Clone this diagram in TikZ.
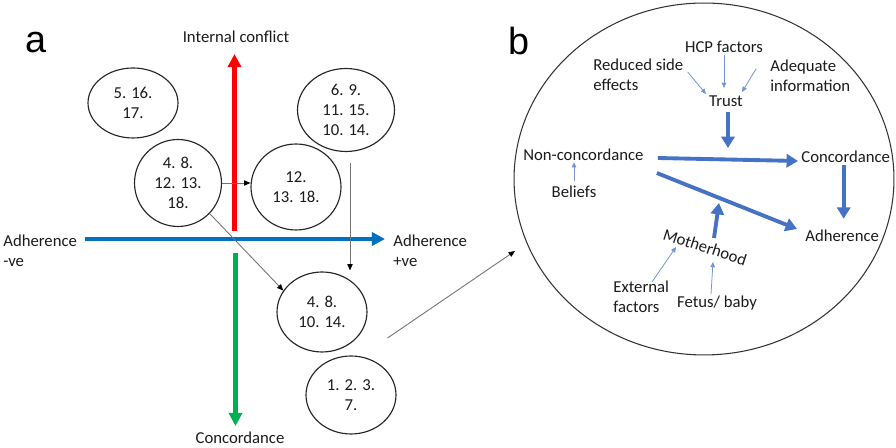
\documentclass[tikz,border=0pt]{standalone}
\usepackage{fontspec}
\setmainfont{Carlito}
\newfontfamily\panelfont{Liberation Sans}
\usetikzlibrary{arrows.meta,positioning,calc,shapes.geometric}
\definecolor{axisred}{HTML}{FF0000}
\definecolor{axisblue}{HTML}{0070C0}
\definecolor{axisgreen}{HTML}{00B050}
\definecolor{flowblue}{HTML}{4472C4}
\definecolor{textgray}{HTML}{1A1A1A}
\tikzset{
  group/.style={ellipse,draw=black!85,line width=0.65pt,inner sep=0pt,align=center,
    text=textgray,font=\fontsize{9.5}{11.4}\selectfont},
  lbl/.style={inner sep=0pt,text=textgray,font=\fontsize{9.5}{11.2}\selectfont},
  panel/.style={inner sep=0pt,anchor=base west,font=\panelfont\fontsize{21.5}{24}\selectfont},
  axis/.style={line width=2.8pt,-{Triangle[length=7.5pt,width=7.5pt]}},
  link/.style={draw=black!55,line width=0.5pt,-{Triangle[length=3.6pt,width=3pt,color=black]}},
  flow/.style={draw=flowblue,line width=2.2pt,-{Triangle[length=6.5pt,width=7.5pt]}},
  feed/.style={draw=flowblue!75,line width=0.45pt,-{Triangle[length=3pt,width=2.6pt]}}
}

\begin{document}
\begin{tikzpicture}[x=0.02cm,y=-0.02cm]
\useasboundingbox (0,0) rectangle (896,448);
\node[panel] (pa) at (25,53) {a};
\node[panel] (pb) at (508,55) {b};

\foreach \nm/\cx/\cy/\gw/\gh/\txt in {
  g1/133/103/1.80/1.40/{5. 16.\\17.},
  g2/178/183/1.74/1.74/{4. 8.\\12. 13.\\18.},
  g3/296/187/1.80/1.72/{12.\\13. 18.},
  g4/346/110/1.94/1.66/{6. 9.\\11. 15.\\10. 14.},
  g5/322/312/1.80/1.60/{4. 8.\\10. 14.},
  g6/351/395/1.80/1.56/{1. 2. 3.\\7.}}
  \node[group,minimum width=\gw cm,minimum height=\gh cm] (\nm) at (\cx,\cy) {\txt};

\node[lbl] (conflict) at (236,37) {Internal conflict};
\node[lbl] (concaxis) at (240,438) {Concordance};
\node[lbl,anchor=west,align=left] (adneg) at (3,251) {Adherence\\-ve};
\node[lbl,anchor=west,align=left] (adpos) at (393,251) {Adherence\\+ve};
\coordinate (cross) at (235,239);
\draw[axis,axisblue] ($(cross)+(-150,0)$) -- ($(cross)+(150,0)$);
\draw[axis,axisred] ($(cross)+(-0.5,-8)$) -- ($(cross)+(-0.5,-185)$);
\draw[axis,axisgreen] ($(cross)+(0.5,14)$) -- ($(cross)+(0.5,187)$);

\draw[link] (g2.east) -- (g2.east -| g3.west);
\draw[link] (g2.-44) -- (g5.151);
\draw[link] ($(g4.south)+(4,11)$) -- ($(g5.north)+(28,-1)$);
\coordinate (zoomtip) at (515,251);
\draw[link] ($(g5.east)+(20,26)$) -- (zoomtip);

\node[ellipse,draw=black!80,line width=0.6pt,minimum width=7.6cm,minimum height=7.04cm] (zoomcircle) at (704,179) {};
\node[lbl] (hcp) at (724,47) {HCP factors};
\node[lbl,anchor=west,align=left] (sidefx) at (593,75) {Reduced side\\effects};
\node[lbl,anchor=west,align=left] (info) at (770,76) {Adequate\\information};
\node[lbl] (trust) at (726,101) {Trust};
\node[lbl,anchor=west] (noncon) at (523,155) {Non-concordance};
\node[lbl] (beliefs) at (574,192) {Beliefs};
\node[lbl,anchor=west] (concord) at (801,157) {Concordance};
\node[lbl,anchor=west] (adhere) at (805,236) {Adherence};
\node[lbl,rotate=-18] (mother) at (705,247) {Motherhood};
\node[lbl,anchor=west,align=left] (external) at (613,297) {External\\factors};
\node[lbl] (fetus) at (717,303) {Fetus/ baby};

\draw[feed] ($(hcp)+(0,8)$) -- ($(trust)+(-2,-13)$);
\draw[feed] ($(sidefx.east)+(4,-3)$) -- ($(trust)+(-20,-7)$);
\draw[feed] ($(info.west)+(-14,-7)$) -- ($(trust)+(16,-9)$);
\draw[feed] ($(beliefs.north)+(0,-5)$) -- ($(beliefs |- noncon.south)+(0,1)$);
\draw[feed] ($(external.west)+(39,-15)$) -- ($(mother)+(-29,0)$);
\draw[feed] ($(fetus)+(-6,-9)$) -- ($(mother)+(8,15)$);

\draw[flow] ($(trust)+(2,11)$) -- ($(trust)+(2,47)$);
\draw[flow] ($(noncon.east)+(14,3)$) -- ($(concord.west)+(-3,4)$);
\draw[flow] ($(noncon.east)+(13,18)$) -- ($(adhere.west)+(-8,-7)$);
\draw[flow] ($(concord.south)+(-2,2)$) -- ($(concord.south |- adhere.north)+(-2,-11)$);
\draw[flow] ($(mother)+(9,-9)$) -- ($(mother)+(14,-44)$);
\end{tikzpicture}
\end{document}
